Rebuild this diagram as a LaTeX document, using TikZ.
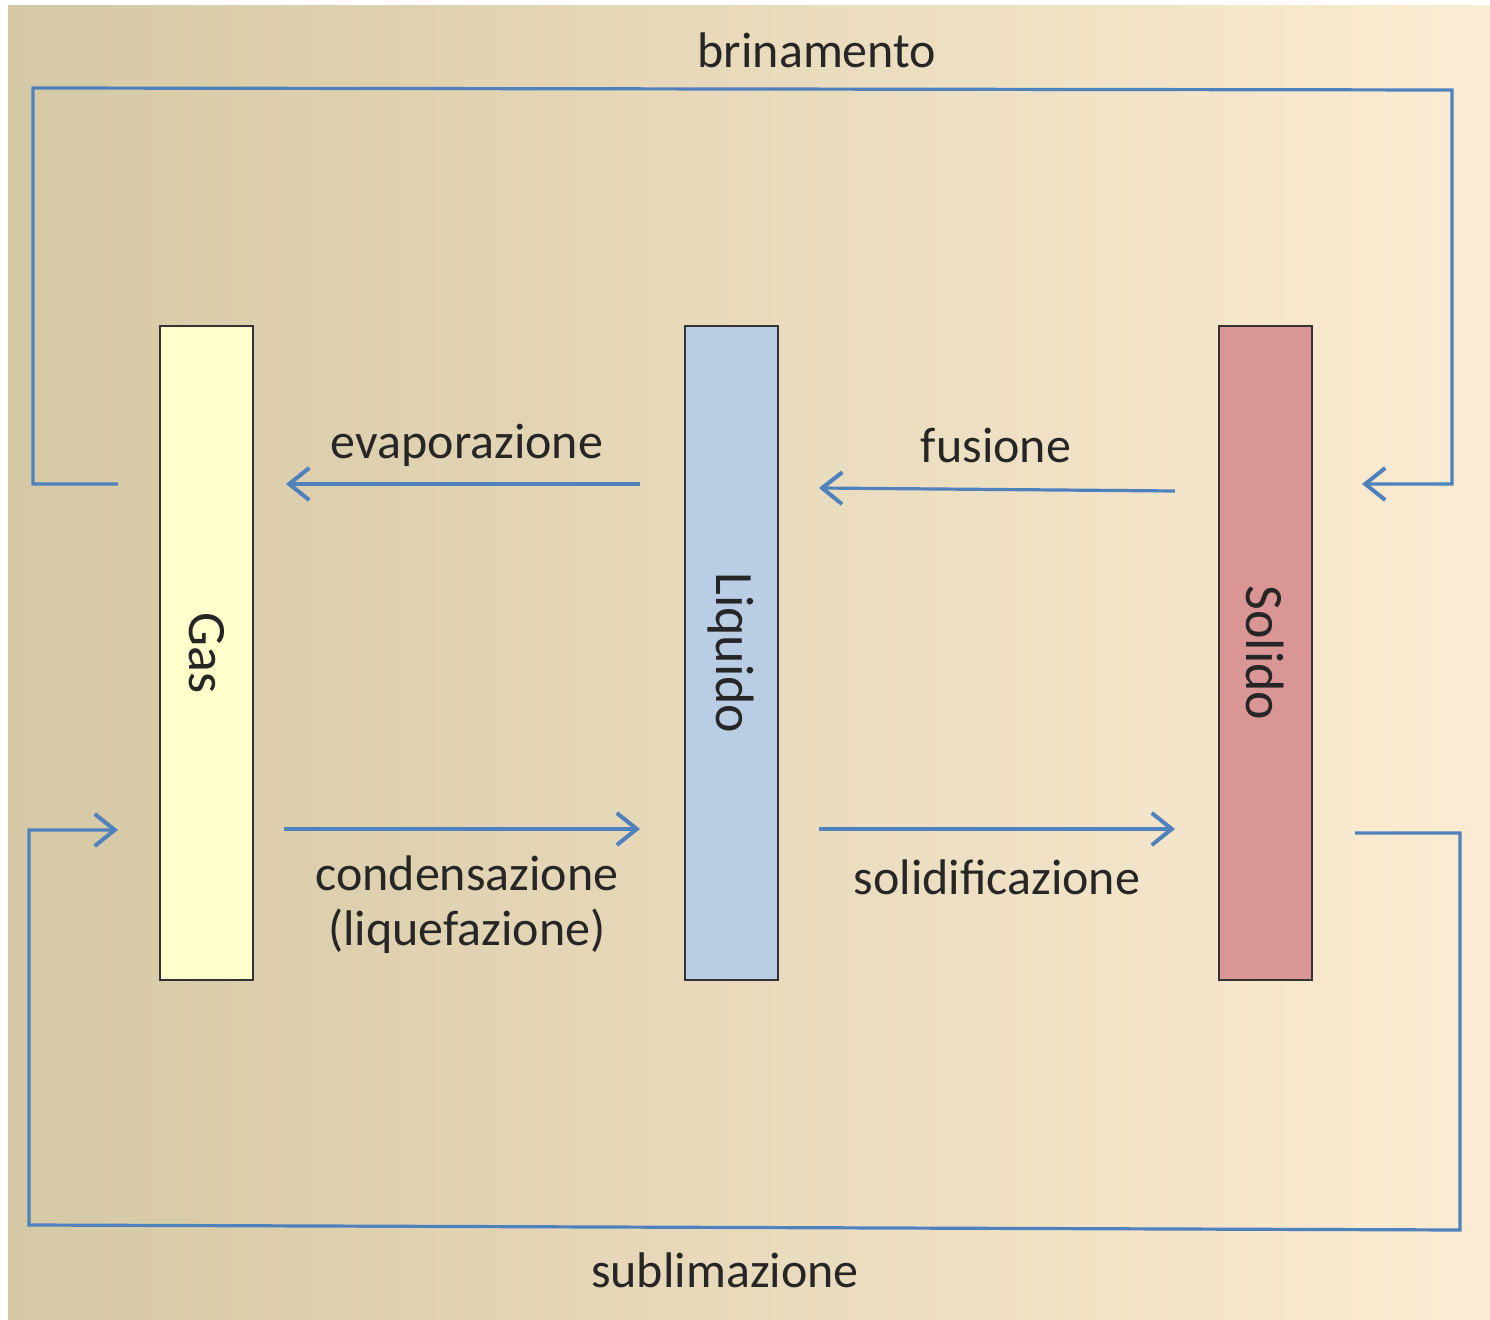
\documentclass[tikz,border=0pt]{standalone}
\usepackage{fontspec}
\setmainfont{Carlito}
\usetikzlibrary{arrows.meta,calc}
\definecolor{bgL}{HTML}{D5C8A4}
\definecolor{bgM}{HTML}{EEE7D3}
\definecolor{bgR}{HTML}{FBECD3}
\definecolor{linec}{HTML}{4F81BD}
\definecolor{gasc}{HTML}{FFFFCC}
\definecolor{liqc}{HTML}{B9CDE5}
\definecolor{solc}{HTML}{D99694}
\definecolor{txt}{HTML}{262626}
\begin{document}
\begin{tikzpicture}[x=0.5pt,y=-0.5pt,
  phase/.style={draw=black!80, line width=1pt, minimum width=46.5pt, minimum height=327pt, inner sep=0pt, text=txt, font=\fontsize{27}{32}\selectfont},
  lbl/.style={text=txt, font=\fontsize{25}{30}\selectfont, inner sep=0pt},
  conn/.style={draw=linec, line width=1.6pt},
  arr/.style={conn, -{Straight Barb[length=10pt, width=16pt, line width=2pt]}}]
\useasboundingbox (0,0) rectangle (1490,1320);
\fill[white] (0,0) rectangle (1490,1320);
\shade[left color=bgL, middle color=bgM, right color=bgR] (8,6) rectangle (1490,1320);

\node[phase, fill=gasc] (gas) at (206.5,653) {\rotatebox{-90}{Gas}};
\node[phase, fill=liqc] (liq) at (731,653) {\rotatebox{-90}{Liquido}};
\node[phase, fill=solc] (sol) at (1265.5,653) {\rotatebox{-90}{Solido}};

% horizontal connectors
\coordinate (ev1) at (640,484);
\coordinate (ev2) at (286,484);
\coordinate (fu1) at (1175,491);
\coordinate (fu2) at (819,488);
\coordinate (co1) at (284,829);
\coordinate (co2) at (640,829);
\coordinate (so1) at (819,829);
\coordinate (so2) at (1175,829);
\draw[arr] (ev1) -- (ev2);
\draw[arr] (fu1) -- (fu2);
\draw[arr] (co1) -- (co2);
\draw[arr] (so1) -- (so2);

% brinamento loop
\coordinate (br1) at (118,484);
\coordinate (br2) at (1362,484);
\draw[arr, line join=miter] (br1) -- (33,484) -- (33,88) -- (1452,90) -- (1452,484) -- (br2);

% sublimazione loop
\coordinate (su1) at (1355,833);
\coordinate (su2) at (118,830);
\draw[arr, line join=miter] (su1) -- (1460,833) -- (1460,1230) -- (29,1225) -- (29,830) -- (su2);

% labels
\node[lbl] (tbr) at (817,50) {brinamento};
\node[lbl] (tsu) at (725,1270) {sublimazione};
\node[lbl] (tev) at (467,445) {evaporazione};
\node[lbl] (tfu) at (996,445) {fusione};
\node[lbl] (tco) at (467,873) {condensazione};
\node[lbl] (tli) at (467,931) {(liquefazione)};
\node[lbl] (tso) at (997,877) {solidificazione};
\end{tikzpicture}
\end{document}
